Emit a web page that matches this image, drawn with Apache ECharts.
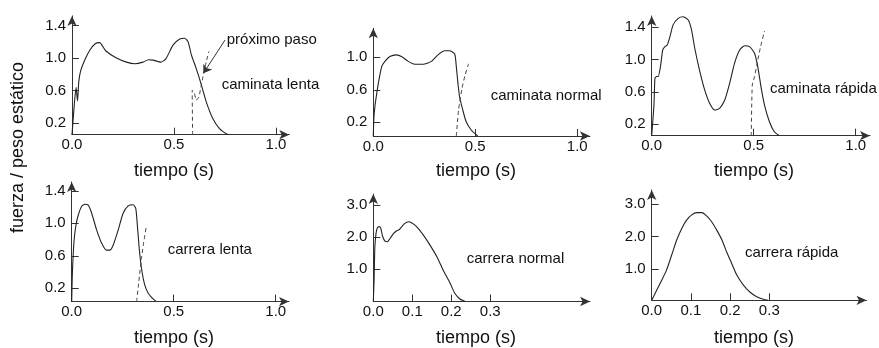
<!DOCTYPE html>
<html><head><meta charset="utf-8">
<script src="https://cdn.jsdelivr.net/npm/echarts@6/dist/echarts.min.js"></script>
<style>html,body{margin:0;padding:0;background:#fff}#c{width:879px;height:348px}</style>
</head><body><div id="c"></div>
<script>
// ---- data (tiempo s, fuerza / peso estático) ----
const caminataLenta = [[0,0.055],[0.012,0.45],[0.02,0.64],[0.027,0.47],[0.033,0.7],[0.042,0.84],[0.063,0.98],[0.088,1.10],[0.115,1.18],[0.135,1.19],[0.165,1.09],[0.218,1.0],[0.267,0.95],[0.308,0.93],[0.348,0.95],[0.375,0.98],[0.397,0.975],[0.435,0.95],[0.46,0.99],[0.495,1.16],[0.528,1.235],[0.552,1.245],[0.569,1.2],[0.585,1.04],[0.609,0.87],[0.634,0.67],[0.658,0.46],[0.69,0.255],[0.723,0.13],[0.76,0.06],[0.77,0.055]];
const proximoPasoLenta = [[0.591,0.055],[0.589,0.605],[0.599,0.577],[0.609,0.48],[0.622,0.52],[0.629,0.605],[0.642,0.77],[0.658,0.955],[0.671,1.08]];
const caminataNormal = [[0,0.032],[0.004,0.3],[0.017,0.56],[0.041,0.885],[0.057,0.95],[0.081,1.01],[0.114,1.03],[0.138,1.01],[0.171,0.95],[0.203,0.915],[0.244,0.915],[0.285,0.95],[0.317,1.03],[0.35,1.08],[0.374,1.08],[0.399,1.04],[0.407,0.885],[0.415,0.68],[0.423,0.515],[0.439,0.35],[0.455,0.21],[0.48,0.106],[0.512,0.032]];
const proximoPasoNormal = [[0.407,0.032],[0.418,0.35],[0.435,0.62],[0.45,0.78],[0.467,0.92]];
const caminataRapida = [[0,0.055],[0.011,0.435],[0.016,0.77],[0.024,0.79],[0.032,0.79],[0.044,0.93],[0.054,1.12],[0.065,1.16],[0.076,1.18],[0.089,1.28],[0.105,1.43],[0.13,1.51],[0.154,1.53],[0.179,1.49],[0.195,1.37],[0.211,1.14],[0.236,0.85],[0.26,0.62],[0.284,0.457],[0.309,0.373],[0.333,0.395],[0.358,0.497],[0.382,0.705],[0.406,0.953],[0.431,1.118],[0.455,1.17],[0.48,1.16],[0.504,1.077],[0.52,0.91],[0.537,0.643],[0.553,0.435],[0.577,0.228],[0.601,0.104],[0.626,0.055]];
const proximoPasoRapida = [[0.488,0.055],[0.493,0.684],[0.504,0.787],[0.515,0.93],[0.532,1.14],[0.553,1.353]];
const carreraLenta = [[0,0.035],[0.003,0.36],[0.011,0.77],[0.021,0.98],[0.032,1.10],[0.049,1.21],[0.065,1.235],[0.081,1.225],[0.098,1.125],[0.122,0.92],[0.147,0.755],[0.171,0.67],[0.187,0.67],[0.203,0.73],[0.228,0.92],[0.252,1.125],[0.277,1.215],[0.301,1.23],[0.314,1.185],[0.323,0.94],[0.331,0.69],[0.342,0.446],[0.358,0.24],[0.375,0.138],[0.399,0.068],[0.415,0.035]];
const proximoPasoCarrera = [[0.318,0.035],[0.329,0.28],[0.342,0.57],[0.353,0.77],[0.367,0.98]];
const carreraNormal = [[0,0],[0.002,0.67],[0.004,1.7],[0.007,2.12],[0.01,2.28],[0.015,2.33],[0.019,2.28],[0.024,2.02],[0.03,1.88],[0.036,1.86],[0.043,1.96],[0.051,2.1],[0.06,2.2],[0.067,2.24],[0.073,2.33],[0.081,2.43],[0.09,2.48],[0.098,2.45],[0.111,2.33],[0.128,2.07],[0.145,1.76],[0.163,1.39],[0.179,0.98],[0.197,0.57],[0.209,0.255],[0.222,0.078],[0.235,0.01]];
const carreraRapida = [[0,0.03],[0.013,0.35],[0.026,0.66],[0.038,0.97],[0.051,1.43],[0.064,1.9],[0.077,2.26],[0.089,2.51],[0.102,2.67],[0.115,2.74],[0.128,2.74],[0.14,2.64],[0.153,2.46],[0.166,2.2],[0.179,1.9],[0.191,1.53],[0.204,1.17],[0.217,0.81],[0.234,0.5],[0.251,0.28],[0.268,0.14],[0.285,0.06],[0.297,0.03]];

const xTicksCaminata = [0, 0.5, 1.0];
const xTicksCarrera = [0, 0.1, 0.2, 0.3];
const yTicksA = [0.2, 0.6, 1.0, 1.4];
const yTicksB = [0.2, 0.6, 1.0];
const yTicksC = [1.0, 2.0, 3.0];

const panelNames = ['caminata lenta','caminata normal','caminata rápida','carrera lenta','carrera normal','carrera rápida'];
const arrowNote = 'próximo paso';
const arrowFrom = [0.75, 1.222];
const arrowTo = [0.644, 0.812];
const xTitle = 'tiempo (s)';
const yTitle = 'fuerza / peso estático';

// ---- layout ----
const panels = [
  {left:72,    top:15.9,  width:217.3, height:118.8, xMax:1.065, yMin:0.055, yMax:1.52, xt:xTicksCaminata, yt:yTicksA, solid:caminataLenta, dash:proximoPasoLenta},
  {left:373.3, top:28.3,  width:216.6, height:107.7, xMax:1.062, yMin:0.032, yMax:1.357, xt:xTicksCaminata, yt:yTicksB, solid:caminataNormal, dash:proximoPasoNormal},
  {left:651.7, top:16,    width:218.3, height:119.7, xMax:1.07,  yMin:0.055, yMax:1.54, xt:xTicksCaminata, yt:yTicksA, solid:caminataRapida, dash:proximoPasoRapida},
  {left:71.7,  top:182,   width:217.3, height:119.6, xMax:1.065, yMin:0.035, yMax:1.51, xt:xTicksCaminata, yt:yTicksA, solid:carreraLenta, dash:proximoPasoCarrera},
  {left:373.3, top:194.1, width:216.8, height:107.4, xMax:0.556, yMin:0,     yMax:3.34, xt:xTicksCarrera, yt:yTicksC, solid:carreraNormal, dash:null},
  {left:651.7, top:190,   width:214.8, height:110.3, xMax:0.548, yMin:0.03,  yMax:3.44, xt:xTicksCarrera, yt:yTicksC, solid:carreraRapida, dash:null}
];
const nameLabelPos = [[221.7,85],[490.7,95.7],[770,89.3],[167.7,250],[466.7,259.3],[745,253.3]];
const xTitlePos = [[174,171],[476,171],[754,171],[174,338],[476,338],[754,338]];

const FONT = '"Liberation Sans", Arial, sans-serif';
const AX = '#333';
const fmt = v => Number(v).toFixed(1);

const grid = [], xAxis = [], yAxis = [], series = [];
panels.forEach((p, i) => {
  grid.push({left:p.left, top:p.top, width:p.width, height:p.height, containLabel:false});
  xAxis.push({
    type:'value', gridIndex:i, min:0, max:p.xMax,
    axisLine:{show:true, onZero:false, symbol:['none','arrow'], symbolSize:[7,10], lineStyle:{color:AX, width:1}},
    axisTick:{show:true, inside:true, length:7, customValues:p.xt, lineStyle:{color:AX}},
    axisLabel:{show:true, customValues:p.xt, formatter:fmt, margin:3, color:'#111', fontSize:15, fontFamily:FONT},
    splitLine:{show:false}
  });
  yAxis.push({
    type:'value', gridIndex:i, min:p.yMin, max:p.yMax,
    axisLine:{show:true, onZero:false, symbol:['none','arrow'], symbolSize:[7,10], lineStyle:{color:AX, width:1}},
    axisTick:{show:true, inside:true, length:7, customValues:p.yt, lineStyle:{color:AX}},
    axisLabel:{show:true, customValues:p.yt, formatter:fmt, margin:6, color:'#111', fontSize:15, fontFamily:FONT},
    splitLine:{show:false}
  });
  const s = {
    type:'line', xAxisIndex:i, yAxisIndex:i, data:p.solid, showSymbol:false, smooth:0.2,
    lineStyle:{color:'#222', width:1.1}, silent:true
  };
  if (i === 0) {
    s.markLine = {
      silent:true, symbol:['none','arrow'], symbolSize:8,
      label:{show:false},
      lineStyle:{color:'#333', width:1, type:'solid'},
      data:[[{coord:arrowFrom},{coord:arrowTo}]]
    };
  }
  series.push(s);
  if (p.dash) {
    series.push({
      type:'line', xAxisIndex:i, yAxisIndex:i, data:p.dash, showSymbol:false, smooth:0.2,
      lineStyle:{color:'#444', width:1, type:[4,3]}, silent:true
    });
  }
});

const graphic = [];
panelNames.forEach((n, i) => {
  graphic.push({type:'text', x:nameLabelPos[i][0], y:nameLabelPos[i][1],
    style:{text:n, fill:'#111', font:'15px ' + FONT, textAlign:'left', textVerticalAlign:'middle'}});
  graphic.push({type:'text', x:xTitlePos[i][0], y:xTitlePos[i][1],
    style:{text:xTitle, fill:'#111', font:'18px ' + FONT, textAlign:'center', textVerticalAlign:'middle'}});
});
graphic.push({type:'text', x:226.7, y:40,
  style:{text:arrowNote, fill:'#111', font:'15px ' + FONT, textAlign:'left', textVerticalAlign:'middle'}});
graphic.push({type:'text', x:18, y:147.5, rotation:Math.PI/2,
  style:{text:yTitle, fill:'#111', font:'18px ' + FONT, textAlign:'center', textVerticalAlign:'middle'}});

const chart = echarts.init(document.getElementById('c'), null, {renderer:'canvas'});
chart.setOption({animation:false, backgroundColor:'#fff', grid, xAxis, yAxis, series, graphic});
</script></body></html>
